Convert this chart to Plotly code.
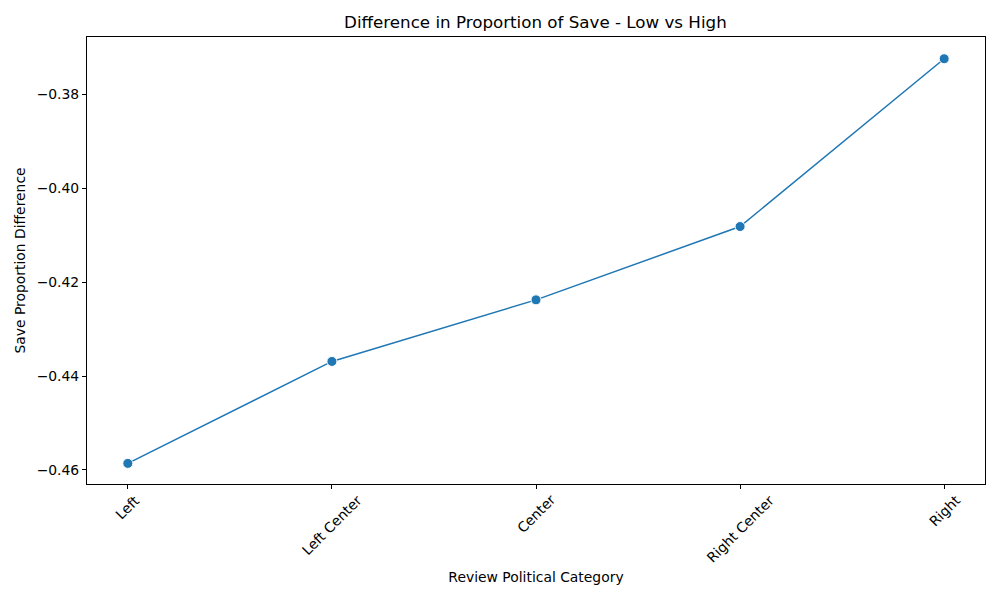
import plotly.graph_objects as go

categories = ['Left', 'Left Center', 'Center', 'Right Center', 'Right']
save_diff = [-0.4586, -0.4369, -0.4238, -0.4082, -0.3725]
y_ticks = [-0.46, -0.44, -0.42, -0.40, -0.38]
y_tick_text = ['−0.46', '−0.44', '−0.42', '−0.40', '−0.38']

x_pos = list(range(len(categories)))

fig = go.Figure()

fig.add_trace(go.Scatter(
    x=x_pos,
    y=save_diff,
    mode='lines+markers',
    line=dict(color='#1f77b4', width=1.5),
    marker=dict(size=10, color='#1f77b4', line=dict(color='white', width=1)),
    showlegend=False
))

# rotated category labels centred under each tick (matplotlib style)
for xp, label in zip(x_pos, categories):
    fig.add_annotation(
        x=xp, y=0, xref='x', yref='paper',
        text=label, showarrow=False, textangle=-45,
        xanchor='center', yanchor='top', yshift=-5,
        font=dict(size=13.9, color='black')
    )

axis_common = dict(
    showgrid=False, zeroline=False, showline=True, linecolor='black',
    linewidth=1, mirror=True, ticks='outside', ticklen=4, tickcolor='black',
    tickfont=dict(size=13.9, color='black')
)

# page body has an 8px margin, so the figure is sized to fit inside it
fig.update_layout(
    width=984, height=584,
    paper_bgcolor='white', plot_bgcolor='white',
    font=dict(family='DejaVu Sans', size=13.9, color='black'),
    margin=dict(l=79, r=7, t=29, b=108),
    title=dict(text='Difference in Proportion of Save - Low vs High',
               x=0.536, xanchor='center', y=0.976, yanchor='middle',
               font=dict(size=16.7, color='black')),
    xaxis=dict(
        axis_common,
        range=[-0.2, 4.2],
        tickmode='array', tickvals=x_pos,
        showticklabels=False,
        title=dict(text='Review Political Category', font=dict(size=13.9), standoff=84)
    ),
    yaxis=dict(
        axis_common,
        range=[-0.46298, -0.36787],
        tickmode='array', tickvals=y_ticks,
        ticktext=y_tick_text,
        title=dict(text='Save Proportion Difference', font=dict(size=13.9), standoff=7)
    )
)

fig.write_html("out.html")
